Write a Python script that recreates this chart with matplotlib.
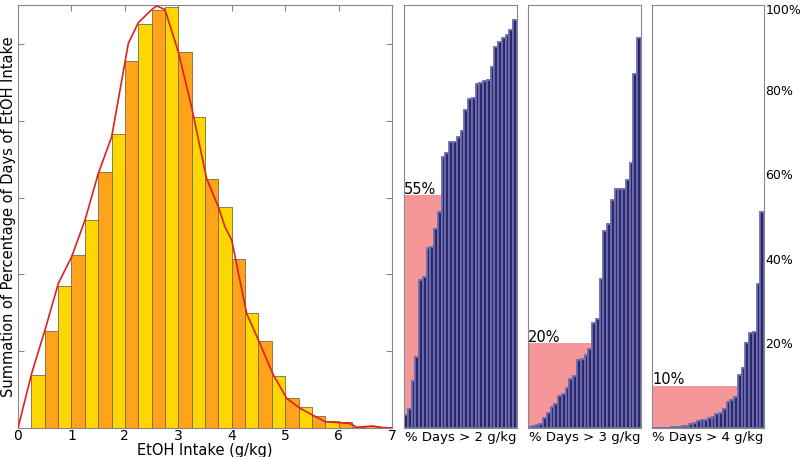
import matplotlib
matplotlib.use("Agg")
import matplotlib.pyplot as plt
import matplotlib.transforms as mtransforms
import numpy as np

# ---- histogram data (bins of 0.25 g/kg) ----
bin_edges = [0.25 + 0.25 * i for i in range(28)]  # 0.25 .. 7.0
hist_values = [0.686, 1.263, 1.853, 2.253, 2.708, 3.329, 3.824, 4.787, 5.269,
               5.451, 5.486, 4.904, 4.045, 3.238, 2.882, 2.205, 1.493, 1.129,
               0.681, 0.386, 0.269, 0.156, 0.091, 0.078, 0.017, 0.026, 0.009]

# ---- smooth (KDE-like) curve ----
curve_x = [0.0, 0.256, 0.505, 0.755, 1.005, 1.254, 1.503, 1.753, 2.065, 2.252,
           2.502, 2.595, 2.751, 3.0, 3.25, 3.53, 3.75, 3.874, 4.0, 4.28, 4.5,
           4.78, 5.03, 5.28, 5.75, 6.21, 6.34, 6.64, 6.77, 6.99]
curve_y = [0.0, 0.712, 1.276, 1.884, 2.231, 2.708, 3.316, 3.793, 5.01, 5.28,
           5.45, 5.498, 5.45, 4.9, 4.18, 3.25, 2.88, 2.62, 2.448, 1.49, 1.146,
           0.69, 0.386, 0.256, 0.082, 0.06, 0.01, 0.026, 0.009, 0.0]

# ---- per-subject sorted percentages ----
pct_over_2 = [3.1, 4.4, 11.1, 16.9, 35.0, 35.8, 42.5, 42.8, 47.0, 51.1,
              64.1, 65.1, 67.5, 67.7, 68.9, 70.1, 75.2, 77.7, 78.1, 81.3,
              81.5, 82.0, 82.2, 85.3, 90.0, 91.3, 92.2, 93.0, 94.2, 96.5]
pct_over_3 = [0.2, 0.5, 0.6, 1.0, 2.3, 3.5, 5.0, 5.7, 7.6, 8.0,
              9.4, 11.6, 12.3, 16.0, 16.4, 17.3, 18.6, 24.9, 25.7, 35.2,
              46.6, 48.2, 53.9, 56.4, 56.4, 56.5, 58.6, 62.6, 83.7, 92.1]
pct_over_4 = [0.0, 0.0, 0.0, 0.0, 0.0, 0.15, 0.25, 0.3, 0.4, 0.55,
              0.9, 1.3, 1.7, 1.9, 2.0, 2.3, 2.7, 3.2, 3.5, 4.4,
              6.1, 6.6, 7.4, 12.5, 14.3, 20.2, 22.4, 22.6, 34.0, 51.1]
thresholds = [55, 20, 10]
panel_labels = ["% Days > 2 g/kg", "% Days > 3 g/kg", "% Days > 4 g/kg"]
right_ticks = [20, 40, 60, 80, 100]

W, H = 800, 457
fig = plt.figure(figsize=(W / 100, H / 100), dpi=100)

def frac(x0, y0, x1, y1):
    return [x0 / W, 1 - y1 / H, (x1 - x0) / W, (y1 - y0) / H]

spine_col = "#888888"
gold = "#FFD700"
orange = "#FFA31A"

ax = fig.add_axes(frac(18, 5, 392, 428))
for i, v in enumerate(hist_values):
    ax.bar(bin_edges[i], v, width=0.25, align="edge",
           color=gold if i % 2 == 0 else orange,
           edgecolor="#7a6a45", linewidth=0.6, zorder=2)
ax.plot(curve_x, curve_y, color="#E0201C", linewidth=1.2, zorder=3)
ax.set_xlim(0, 7)
ax.set_ylim(0, 5.51)
ax.set_xticks(range(8))
ax.set_yticks(range(6))
ax.set_yticklabels([])
ax.tick_params(direction="in", top=True, right=True, length=4, color=spine_col,
               labelsize=10, pad=1)
for s in ax.spines.values():
    s.set_color(spine_col)
ax.set_xlabel("EtOH Intake (g/kg)", fontsize=10.5, labelpad=0)
ax.set_ylabel("Summation of Percentage of Days of EtOH Intake", fontsize=10.5)
ax.yaxis.set_label_coords(-0.005, 0.5)

panels = [(404, 517), (528, 641), (652, 764)]
datasets = [pct_over_2, pct_over_3, pct_over_4]
for k, ((x0, x1), data, thr, lab) in enumerate(zip(panels, datasets, thresholds, panel_labels)):
    a = fig.add_axes(frac(x0, 5, x1, 428))
    n = len(data)
    idx = np.arange(n)
    cross = next(i for i, v in enumerate(data) if v > thr)
    a.fill_between([-0.5, cross - 0.5], 0, thr, color="#F59698", linewidth=0, zorder=1)
    a.bar(idx, data, width=1.0, color="#28286A", edgecolor="#6C6CAE",
          linewidth=1.3, zorder=2)
    a.text(-0.5, thr + 0.3, f"{thr}%", fontsize=10.5, ha="left", va="baseline", zorder=3)
    a.set_xlim(-0.5, n - 0.5)
    a.set_ylim(0, 100)
    a.set_xticks([])
    a.set_xlabel(lab, fontsize=9.5, labelpad=2)
    for s in a.spines.values():
        s.set_color(spine_col)
    if k == 2:
        a.yaxis.tick_right()
        a.set_yticks(right_ticks)
        a.set_yticklabels([f"{t}%" for t in right_ticks])
        a.tick_params(axis="y", length=0, labelsize=9, pad=1)
        top_lbl = a.get_yticklabels()[-1]
        top_lbl.set_transform(top_lbl.get_transform() +
                              mtransforms.ScaledTranslation(0, -3 / 72, fig.dpi_scale_trans))
    else:
        a.set_yticks([])

fig.savefig("out.png", dpi=100)
